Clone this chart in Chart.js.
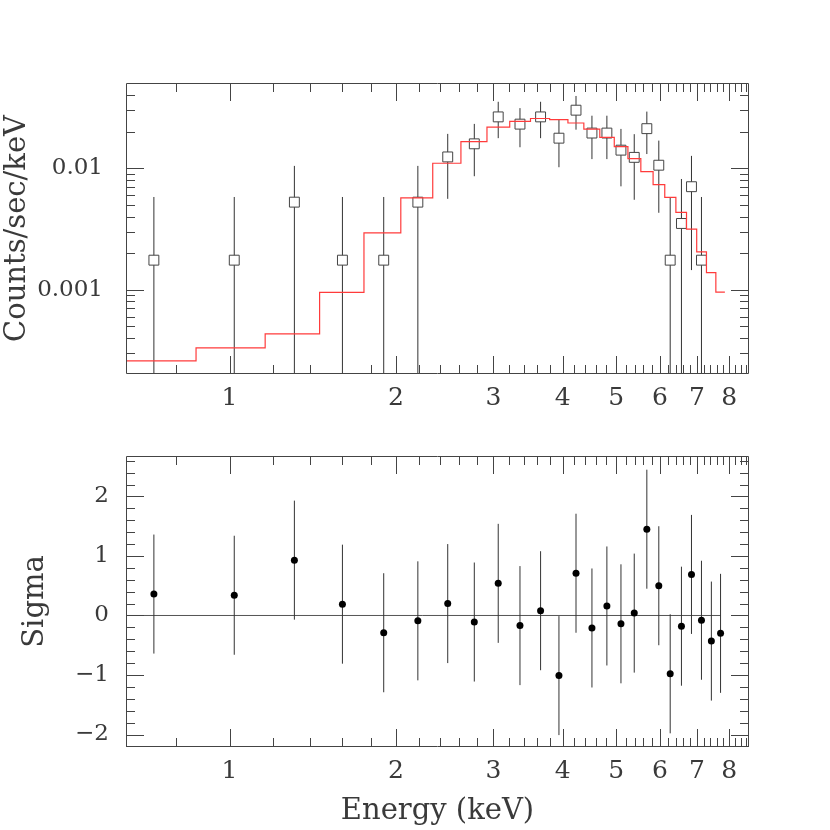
<!DOCTYPE html>
<html>
<head>
<meta charset="utf-8">
<script src="https://cdn.jsdelivr.net/npm/chart.js@4"></script>
<style>
	body { margin: 0; background: #fff; }
	#wrap { position: relative; width: 830px; height: 830px; }
	canvas { position: absolute; left: 0; }
</style>
</head>
<body>
<div id="wrap">
	<canvas id="spec" width="830" height="415" style="top:0px"></canvas>
	<canvas id="resid" width="830" height="415" style="top:415px"></canvas>
</div>
<script>
// channel centres (keV)
var energy = [0.73, 1.02, 1.31, 1.60, 1.90, 2.19, 2.48, 2.77, 3.06, 3.35, 3.65, 3.94, 4.23,
	4.52, 4.81, 5.10, 5.39, 5.68, 5.97, 6.26, 6.56, 6.84, 7.13, 7.43, 7.72];
// data, counts/sec/keV (last two channels are empty, not shown on log axis)
var rate = [0.00175, 0.00175, 0.00526, 0.00175, 0.00175, 0.00526, 0.0124, 0.0159, 0.0265, 0.0231,
	0.0265, 0.0177, 0.0301, 0.0195, 0.0195, 0.0141, 0.0123, 0.0212, 0.0106, 0.00175,
	0.00351, 0.00705, 0.00175, null, null];
var rateErr = [0.00405, 0.00405, 0.0052, 0.00405, 0.00405, 0.0052, 0.0068, 0.0073, 0.0088, 0.0082,
	0.0088, 0.0075, 0.0093, 0.0076, 0.0076, 0.0070, 0.0068, 0.0081, 0.0063, 0.00405,
	0.00465, 0.0056, 0.00405, null, null];
// folded model, one value per channel, between bin edges
var binEdges = [0.58, 0.87, 1.16, 1.455, 1.75, 2.04, 2.33, 2.62, 2.92, 3.21, 3.50, 3.79, 4.09,
	4.37, 4.67, 4.96, 5.25, 5.54, 5.83, 6.12, 6.41, 6.70, 6.99, 7.28, 7.57, 7.86];
var model = [0.000259, 0.000332, 0.000433, 0.00095, 0.00294, 0.00571, 0.0110, 0.0166, 0.0218, 0.0243,
	0.0257, 0.0252, 0.0236, 0.0210, 0.0180, 0.0151, 0.0120, 0.00937, 0.00732, 0.00575,
	0.00433, 0.00315, 0.00205, 0.00138, 0.000955];
// residuals in sigma
var sigma = [0.36, 0.34, 0.93, 0.19, -0.29, -0.09, 0.20, -0.11, 0.54, -0.17, 0.08, -1.01, 0.71,
	-0.21, 0.16, -0.14, 0.04, 1.45, 0.50, -0.98, -0.18, 0.69, -0.08, -0.43, -0.30];
var sigmaErr = [1, 1, 1, 1, 1, 1, 1, 1, 1, 1, 1, 1, 1, 1, 1, 1, 1, 1, 1, 1, 1, 1, 1, 1, 1];
var zeroLineX = [0.58, 7.72];

// axes
var xMin = 0.65, xMax = 8.69;
var xTickLabels = [1, 2, 3, 4, 5, 6, 7, 8];
var xMinorTicks = [0.8, 1.2, 1.4, 1.6, 1.8, 2.2, 2.4, 2.6, 2.8, 3.2, 3.4, 3.6, 3.8, 4.2, 4.4, 4.6, 4.8,
	5.2, 5.4, 5.6, 5.8, 6.2, 6.4, 6.6, 6.8, 7.2, 7.4, 7.6, 7.8, 8.2, 8.4, 8.6];
var specMin = 0.000202, specMax = 0.0504;
var specTickLabels = [0.001, 0.01];
var specMinorTicks = [0.0003, 0.0004, 0.0005, 0.0006, 0.0007, 0.0008, 0.0009,
	0.002, 0.003, 0.004, 0.005, 0.006, 0.007, 0.008, 0.009, 0.02, 0.03, 0.04];
var sigMin = -2.21, sigMax = 2.68;
var sigTickLabels = [-2, -1, 0, 1, 2];
var sigMinorTicks = [-2.2, -1.8, -1.6, -1.4, -1.2, -0.8, -0.6, -0.4, -0.2, 0.2, 0.4, 0.6, 0.8,
	1.2, 1.4, 1.6, 1.8, 2.2, 2.4, 2.6];

var inkColor = '#3a3a3a';
var fontFamily = "'DejaVu Serif', serif";
var xTickFont = {family: fontFamily, size: 25};
var yTickFont = {family: fontFamily, size: 23};
var titleFont = {family: fontFamily, size: 29};
var sideTitleFont = {family: fontFamily, size: 29, lineHeight: 0.8};

function buildErrorBars(xs, ys, errs, floor) {
	var pts = [];
	for (var i = 0; i < xs.length; i++) {
		if (ys[i] === null) continue;
		var lo = ys[i] - errs[i];
		if (floor !== undefined && lo <= floor) lo = floor;
		pts.push({x: xs[i], y: lo});
		pts.push({x: xs[i], y: ys[i] + errs[i]});
		pts.push({x: xs[i], y: null});
	}
	return pts;
}

function buildPoints(xs, ys) {
	var pts = [];
	for (var i = 0; i < xs.length; i++) {
		if (ys[i] !== null) pts.push({x: xs[i], y: ys[i]});
	}
	return pts;
}

function buildSteps(edges, vals) {
	var pts = [];
	for (var i = 0; i < vals.length; i++) pts.push({x: edges[i], y: vals[i]});
	pts.push({x: edges[edges.length - 1], y: vals[vals.length - 1]});
	return pts;
}

// frame plus inward ticks on all four sides, like the old plotting packages
const frameTicks = {
	id: 'frameTicks',
	afterDatasetsDraw(chart, args, options) {
		const {ctx, chartArea: {left, top, right, bottom}} = chart;
		const xs = chart.scales.x, ys = chart.scales.y;
		ctx.save();
		ctx.strokeStyle = options.color;
		ctx.lineWidth = 1;
		ctx.beginPath();
		ctx.rect(left + 0.5, top + 0.5, right - left - 1, bottom - top - 1);
		function xTick(v, len) {
			if (v <= xs.min || v >= xs.max) return;
			var px = Math.round(xs.getPixelForValue(v)) + 0.5;
			ctx.moveTo(px, bottom); ctx.lineTo(px, bottom - len);
			ctx.moveTo(px, top); ctx.lineTo(px, top + len);
		}
		function yTick(v, len) {
			if (v <= ys.min || v >= ys.max) return;
			var py = Math.round(ys.getPixelForValue(v)) + 0.5;
			ctx.moveTo(left, py); ctx.lineTo(left + len, py);
			ctx.moveTo(right, py); ctx.lineTo(right - len, py);
		}
		options.xMajor.forEach(v => xTick(v, options.major));
		options.xMinor.forEach(v => xTick(v, options.minor));
		options.yMajor.forEach(v => yTick(v, options.major));
		options.yMinor.forEach(v => yTick(v, options.minor));
		ctx.stroke();
		ctx.restore();
	}
};

function xAxis(height, showTitle) {
	return {
		type: 'logarithmic',
		position: 'bottom',
		min: xMin,
		max: xMax,
		grid: {display: false, drawTicks: false},
		border: {display: false},
		afterBuildTicks: function(axis) {
			axis.ticks = xTickLabels.map(v => ({value: v}));
		},
		afterFit: function(axis) { axis.height = height; },
		ticks: {
			autoSkip: false,
			maxRotation: 0,
			padding: 9,
			color: inkColor,
			font: xTickFont,
			callback: function(value) { return String(value); }
		},
		title: {
			display: showTitle,
			text: 'Energy (keV)',
			color: inkColor,
			font: titleFont,
			padding: {top: 0, bottom: 1}
		}
	};
}

var specChart = new Chart(document.getElementById('spec'), {
	type: 'scatter',
	data: {
		datasets: [
			{
				label: 'model',
				data: buildSteps(binEdges, model),
				showLine: true,
				stepped: 'before',
				borderColor: '#ff3b3b',
				borderWidth: 1.2,
				pointRadius: 0
			},
			{
				label: 'data',
				data: buildPoints(energy, rate),
				pointStyle: 'rect',
				pointRadius: 7,
				borderColor: '#444',
				borderWidth: 1,
				backgroundColor: '#fff'
			},
			{
				label: 'errors',
				data: buildErrorBars(energy, rate, rateErr, 0.00001),
				showLine: true,
				spanGaps: false,
				borderColor: '#333',
				borderWidth: 1,
				pointRadius: 0
			}
		]
	},
	options: {
		responsive: false,
		animation: false,
		layout: {padding: {top: 83, right: 81, left: 0, bottom: 0}},
		scales: {
			x: xAxis(41, false),
			y: {
				type: 'logarithmic',
				min: specMin,
				max: specMax,
				grid: {display: false, drawTicks: false},
				border: {display: false},
				afterBuildTicks: function(axis) {
					axis.ticks = specTickLabels.map(v => ({value: v}));
				},
				afterFit: function(axis) { axis.width = 126; },
				ticks: {
					padding: 23,
					color: inkColor,
					font: yTickFont,
					callback: function(value) { return String(value); }
				},
				title: {
					display: true,
					text: 'Counts/sec/keV',
					color: inkColor,
					font: sideTitleFont,
					padding: {top: 6, bottom: 0}
				}
			}
		},
		plugins: {
			legend: {display: false},
			tooltip: {enabled: false},
			frameTicks: {
				color: '#444', major: 18, minor: 9,
				xMajor: xTickLabels, xMinor: xMinorTicks,
				yMajor: specTickLabels, yMinor: specMinorTicks
			}
		}
	},
	plugins: [frameTicks]
});

var residChart = new Chart(document.getElementById('resid'), {
	type: 'scatter',
	data: {
		datasets: [
			{
				label: 'residuals',
				data: buildPoints(energy, sigma),
				pointStyle: 'circle',
				pointRadius: 3.5,
				borderWidth: 0,
				backgroundColor: '#000'
			},
			{
				label: 'errors',
				data: buildErrorBars(energy, sigma, sigmaErr),
				showLine: true,
				spanGaps: false,
				borderColor: '#333',
				borderWidth: 1,
				pointRadius: 0
			},
			{
				label: 'zero',
				data: zeroLineX.map(v => ({x: v, y: 0})),
				showLine: true,
				borderColor: '#555',
				borderWidth: 1,
				pointRadius: 0
			}
		]
	},
	options: {
		responsive: false,
		animation: false,
		layout: {padding: {top: 41, right: 81, left: 0, bottom: 0}},
		scales: {
			x: xAxis(83, true),
			y: {
				type: 'linear',
				min: sigMin,
				max: sigMax,
				grid: {display: false, drawTicks: false},
				border: {display: false},
				afterBuildTicks: function(axis) {
					axis.ticks = sigTickLabels.map(v => ({value: v}));
				},
				afterFit: function(axis) { axis.width = 126; },
				ticks: {
					padding: 17,
					color: inkColor,
					font: yTickFont,
					callback: function(value) {
						return value < 0 ? '\u2212' + Math.abs(value) : String(value);
					}
				},
				title: {
					display: true,
					text: 'Sigma',
					color: inkColor,
					font: sideTitleFont,
					padding: {top: 24, bottom: 0}
				}
			}
		},
		plugins: {
			legend: {display: false},
			tooltip: {enabled: false},
			frameTicks: {
				color: '#444', major: 18, minor: 9,
				xMajor: xTickLabels, xMinor: xMinorTicks,
				yMajor: sigTickLabels, yMinor: sigMinorTicks
			}
		}
	},
	plugins: [frameTicks]
});
</script>
</body>
</html>
